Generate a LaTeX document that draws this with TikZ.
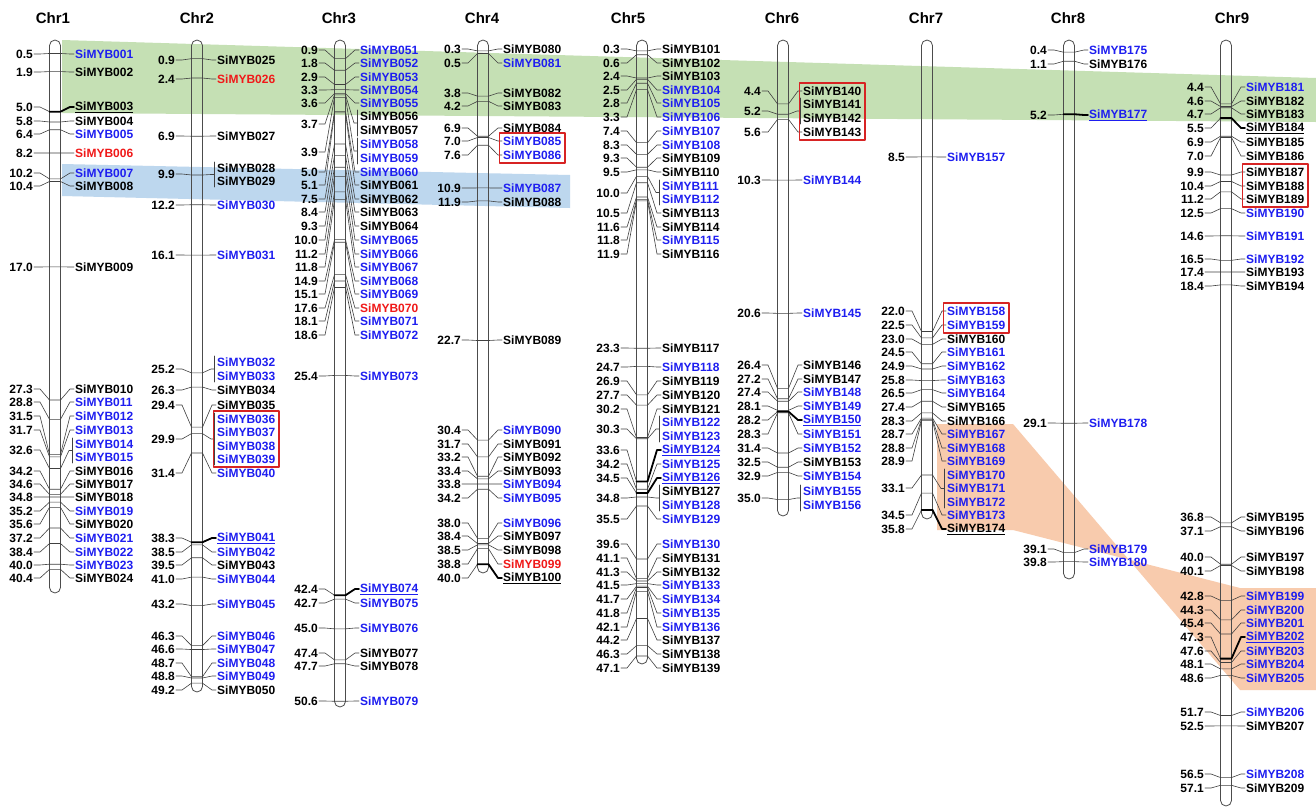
\documentclass[tikz,border=0pt]{standalone}
\usepackage{fontspec}
\setmainfont{Liberation Sans}
\usetikzlibrary{calc,fit}
\definecolor{mybblue}{RGB}{30,30,240}
\definecolor{mybred}{RGB}{240,25,25}
\definecolor{boxred}{RGB}{215,35,35}
\definecolor{bandgreen}{RGB}{197,224,180}
\definecolor{bandblue}{RGB}{189,215,238}
\definecolor{bandorange}{RGB}{248,203,173}
\tikzset{
  chrbody/.style={draw=black!70, line width=0.8pt, rounded corners=5.5pt, minimum width=11pt, inner sep=0pt},
  chrtitle/.style={font=\fontsize{15}{17}\selectfont\bfseries},
  numlbl/.style={anchor=east, inner sep=1pt, font=\fontsize{12}{13}\selectfont\bfseries},
  genelbl/.style={anchor=west, inner sep=1pt, font=\fontsize{12}{13}\selectfont\bfseries},
  mapline/.style={draw=black!75, line width=0.6pt},
  tandem/.style={draw=black, line width=1.8pt},
  redbox/.style={draw=boxred, line width=1.3pt, inner sep=2.5pt},
  gblue/.style={text=mybblue},
  gred/.style={text=mybred},
  gblack/.style={text=black},
  every picture/.style={line cap=round, line join=round}
}
% gene: id, position (Mb), label y, colour, style of right part, text
\newcommand\mybraw[6]{%
  \coordinate (t#1) at (0,{47+12.93*#2});
  \node[numlbl] (p#1) at (-21,#3) {#2};
  \node[genelbl,#4] (g#1) at (19,#3) {#6};
  \draw[mapline] (p#1.east) -- (-15,#3) -- ([xshift=-5.5pt]t#1);
  \draw[mapline,#5] ([xshift=-5.5pt]t#1) -- ([xshift=5.5pt]t#1) -- (15,#3) -- (g#1.west);
}
\newcommand\myb[4]{\mybraw{#1}{#2}{#3}{#4}{}{SiMYB#1}}
\newcommand\mybt[4]{\mybraw{#1}{#2}{#3}{#4}{tandem}{\underline{SiMYB#1}}}
% genes sharing one position: first id, position, number y, first and last label y
\newcommand\mybgrp[5]{%
  \coordinate (t#1) at (0,{47+12.93*#2});
  \node[numlbl] (p#1) at (-21,#3) {#2};
  \coordinate (bt#1) at (17,#4-6);
  \coordinate (bb#1) at (17,#5+6);
  \draw[mapline] (p#1.east) -- (-15,#3) -- ([xshift=-5.5pt]t#1) -- ([xshift=5.5pt]t#1)
    -- ($(bt#1)!0.5!(bb#1)+(-3,0)$) -- ($(bt#1)!0.5!(bb#1)$);
  \draw[mapline] (bt#1) -- (bb#1);
}
\newcommand\myblab[3]{\node[genelbl,#3] (g#1) at (19,#2) {SiMYB#1};}
% chromosome: number, bottom y, title x offset
\newcommand\chrom[3]{%
  \node[chrbody, minimum height={#2-40}] (chr#1) at (0,{(40+#2)/2}) {};
  \node[chrtitle] (title#1) at (#3,18) {Chr#1};
}

\begin{document}
\begin{tikzpicture}[x=1pt,y=-1pt]
  \fill[white] (0,0) rectangle (1316,809);
  \useasboundingbox (0,0) rectangle (1316,809);

  % collinear blocks
  \fill[bandgreen] (62,40) -- (1316,78) -- (1316,122) -- (62,113) -- cycle;
  \fill[bandblue] (62,164) -- (570,175) -- (570,208) -- (62,196) -- cycle;
  \fill[bandorange] (937,424) -- (1013,424) -- (1240,690) -- (1316,690) -- (1316,588)
    -- (1240,588) -- (1013,530) -- (937,530) -- cycle;

  % Chr1
  \begin{scope}[shift={(55,0)}]
    \chrom{1}{593}{-2}
    \myb{001}{0.5}{54}{gblue}
    \myb{002}{1.9}{72}{gblack}
    \mybt{003}{5.0}{107}{gblack}
    \myb{004}{5.8}{121}{gblack}
    \myb{005}{6.4}{134}{gblue}
    \myb{006}{8.2}{153}{gred}
    \myb{007}{10.2}{173}{gblue}
    \myb{008}{10.4}{186}{gblack}
    \myb{009}{17.0}{267}{gblack}
    \myb{010}{27.3}{389}{gblack}
    \myb{011}{28.8}{402}{gblue}
    \myb{012}{31.5}{416}{gblue}
    \myb{013}{31.7}{430}{gblue}
    \mybgrp{014}{32.6}{450}{444}{457}
    \myblab{014}{444}{gblue}
    \myblab{015}{457}{gblue}
    \myb{016}{34.2}{471}{gblack}
    \myb{017}{34.6}{484}{gblack}
    \myb{018}{34.8}{497}{gblack}
    \myb{019}{35.2}{511}{gblue}
    \myb{020}{35.6}{524}{gblack}
    \myb{021}{37.2}{538}{gblue}
    \myb{022}{38.4}{552}{gblue}
    \myb{023}{40.0}{565}{gblue}
    \myb{024}{40.4}{578}{gblack}
  \end{scope}

  % Chr2
  \begin{scope}[shift={(197,0)}]
    \chrom{2}{692}{0}
    \myb{025}{0.9}{60}{gblack}
    \myb{026}{2.4}{79}{gred}
    \myb{027}{6.9}{136}{gblack}
    \mybgrp{028}{9.9}{174}{168}{181}
    \myblab{028}{168}{gblack}
    \myblab{029}{181}{gblack}
    \myb{030}{12.2}{205}{gblue}
    \myb{031}{16.1}{255}{gblue}
    \mybgrp{032}{25.2}{369}{362}{376}
    \myblab{032}{362}{gblue}
    \myblab{033}{376}{gblue}
    \myb{034}{26.3}{390}{gblack}
    \myb{035}{29.4}{405}{gblack}
    \mybgrp{036}{29.9}{439}{419}{459}
    \myblab{036}{419}{gblue}
    \myblab{037}{432}{gblue}
    \myblab{038}{446}{gblue}
    \myblab{039}{459}{gblue}
    \myb{040}{31.4}{473}{gblue}
    \mybt{041}{38.3}{538}{gblue}
    \myb{042}{38.5}{552}{gblue}
    \myb{043}{39.5}{565}{gblack}
    \myb{044}{41.0}{579}{gblue}
    \myb{045}{43.2}{604}{gblue}
    \myb{046}{46.3}{636}{gblue}
    \myb{047}{46.6}{649}{gblue}
    \myb{048}{48.7}{663}{gblue}
    \myb{049}{48.8}{676}{gblue}
    \myb{050}{49.2}{690}{gblack}
  \end{scope}

  % Chr3
  \begin{scope}[shift={(340,0)}]
    \chrom{3}{707}{-1}
    \myb{051}{0.9}{50}{gblue}
    \myb{052}{1.8}{63}{gblue}
    \myb{053}{2.9}{77}{gblue}
    \myb{054}{3.3}{90}{gblue}
    \myb{055}{3.6}{103}{gblue}
    \mybgrp{056}{3.7}{124}{116}{130}
    \myblab{056}{116}{gblack}
    \myblab{057}{130}{gblack}
    \mybgrp{058}{3.9}{152}{144}{158}
    \myblab{058}{144}{gblue}
    \myblab{059}{158}{gblue}
    \myb{060}{5.0}{172}{gblue}
    \myb{061}{5.1}{185}{gblack}
    \myb{062}{7.5}{199}{gblack}
    \myb{063}{8.4}{212}{gblack}
    \myb{064}{9.3}{226}{gblack}
    \myb{065}{10.0}{240}{gblue}
    \myb{066}{11.2}{254}{gblue}
    \myb{067}{11.8}{267}{gblue}
    \myb{068}{14.9}{281}{gblue}
    \myb{069}{15.1}{294}{gblue}
    \myb{070}{17.6}{308}{gred}
    \myb{071}{18.1}{321}{gblue}
    \myb{072}{18.6}{335}{gblue}
    \myb{073}{25.4}{376}{gblue}
    \mybt{074}{42.4}{589}{gblue}
    \myb{075}{42.7}{603}{gblue}
    \myb{076}{45.0}{628}{gblue}
    \myb{077}{47.4}{653}{gblack}
    \myb{078}{47.7}{666}{gblack}
    \myb{079}{50.6}{701}{gblue}
  \end{scope}

  % Chr4
  \begin{scope}[shift={(483,0)}]
    \chrom{4}{573}{-1}
    \myb{080}{0.3}{49}{gblack}
    \myb{081}{0.5}{63}{gblue}
    \myb{082}{3.8}{93}{gblack}
    \myb{083}{4.2}{106}{gblack}
    \myb{084}{6.9}{128}{gblack}
    \myb{085}{7.0}{141}{gblue}
    \myb{086}{7.6}{155}{gblue}
    \myb{087}{10.9}{188}{gblue}
    \myb{088}{11.9}{202}{gblack}
    \myb{089}{22.7}{340}{gblack}
    \myb{090}{30.4}{430}{gblue}
    \myb{091}{31.7}{444}{gblack}
    \myb{092}{33.2}{457}{gblack}
    \myb{093}{33.4}{471}{gblack}
    \myb{094}{33.8}{484}{gblue}
    \myb{095}{34.2}{498}{gblue}
    \myb{096}{38.0}{523}{gblue}
    \myb{097}{38.4}{536}{gblack}
    \myb{098}{38.5}{550}{gblack}
    \myb{099}{38.8}{564}{gred}
    \mybt{100}{40.0}{578}{gblack}
  \end{scope}

  % Chr5
  \begin{scope}[shift={(642,0)}]
    \chrom{5}{664}{-14}
    \myb{101}{0.3}{49}{gblack}
    \myb{102}{0.6}{63}{gblack}
    \myb{103}{2.4}{76}{gblack}
    \myb{104}{2.5}{90}{gblue}
    \myb{105}{2.8}{103}{gblue}
    \myb{106}{3.3}{117}{gblue}
    \myb{107}{7.4}{131}{gblue}
    \myb{108}{8.3}{145}{gblue}
    \myb{109}{9.3}{158}{gblack}
    \myb{110}{9.5}{172}{gblack}
    \mybgrp{111}{10.0}{193}{186}{199}
    \myblab{111}{186}{gblue}
    \myblab{112}{199}{gblue}
    \myb{113}{10.5}{213}{gblack}
    \myb{114}{11.6}{227}{gblack}
    \myb{115}{11.8}{240}{gblue}
    \myb{116}{11.9}{254}{gblack}
    \myb{117}{23.3}{348}{gblack}
    \myb{118}{24.7}{367}{gblue}
    \myb{119}{26.9}{381}{gblack}
    \myb{120}{27.7}{395}{gblack}
    \myb{121}{30.2}{409}{gblack}
    \mybgrp{122}{30.3}{429}{422}{436}
    \myblab{122}{422}{gblue}
    \myblab{123}{436}{gblue}
    \mybt{124}{33.6}{450}{gblue}
    \myb{125}{34.2}{464}{gblue}
    \mybt{126}{34.5}{478}{gblue}
    \mybgrp{127}{34.8}{498}{491}{505}
    \myblab{127}{491}{gblack}
    \myblab{128}{505}{gblue}
    \myb{129}{35.5}{519}{gblue}
    \myb{130}{39.6}{544}{gblue}
    \myb{131}{41.1}{558}{gblack}
    \myb{132}{41.3}{572}{gblack}
    \myb{133}{41.5}{585}{gblue}
    \myb{134}{41.7}{599}{gblue}
    \myb{135}{41.8}{613}{gblue}
    \myb{136}{42.1}{627}{gblue}
    \myb{137}{44.2}{640}{gblack}
    \myb{138}{46.3}{654}{gblack}
    \myb{139}{47.1}{668}{gblack}
  \end{scope}

  % Chr6
  \begin{scope}[shift={(783,0)}]
    \chrom{6}{516}{-1}
    \myb{140}{4.4}{91}{gblack}
    \mybgrp{141}{5.2}{111}{104}{118}
    \myblab{141}{104}{gblack}
    \myblab{142}{118}{gblack}
    \myb{143}{5.6}{132}{gblack}
    \myb{144}{10.3}{180}{gblue}
    \myb{145}{20.6}{313}{gblue}
    \myb{146}{26.4}{365}{gblack}
    \myb{147}{27.2}{379}{gblack}
    \myb{148}{27.4}{392}{gblue}
    \myb{149}{28.1}{406}{gblue}
    \mybt{150}{28.2}{420}{gblue}
    \myb{151}{28.3}{434}{gblue}
    \myb{152}{31.4}{448}{gblue}
    \myb{153}{32.5}{462}{gblack}
    \myb{154}{32.9}{476}{gblue}
    \mybgrp{155}{35.0}{498}{491}{505}
    \myblab{155}{491}{gblue}
    \myblab{156}{505}{gblue}
  \end{scope}

  % Chr7
  \begin{scope}[shift={(927,0)}]
    \chrom{7}{519}{-1}
    \myb{157}{8.5}{157}{gblue}
    \myb{158}{22.0}{311}{gblue}
    \myb{159}{22.5}{325}{gblue}
    \myb{160}{23.0}{339}{gblack}
    \myb{161}{24.5}{352}{gblue}
    \myb{162}{24.9}{366}{gblue}
    \myb{163}{25.8}{380}{gblue}
    \myb{164}{26.5}{393}{gblue}
    \myb{165}{27.4}{407}{gblack}
    \myb{166}{28.3}{421}{gblack}
    \myb{167}{28.7}{434}{gblue}
    \myb{168}{28.8}{448}{gblue}
    \myb{169}{28.9}{461}{gblue}
    \mybgrp{170}{33.1}{488}{475}{502}
    \myblab{170}{475}{gblue}
    \myblab{171}{488}{gblue}
    \myblab{172}{502}{gblue}
    \myb{173}{34.5}{515}{gblue}
    \mybt{174}{35.8}{529}{gblack}
  \end{scope}

  % Chr8
  \begin{scope}[shift={(1069,0)}]
    \chrom{8}{579}{-1}
    \myb{175}{0.4}{50}{gblue}
    \myb{176}{1.1}{64}{gblack}
    \mybt{177}{5.2}{115}{gblue}
    \myb{178}{29.1}{423}{gblue}
    \myb{179}{39.1}{549}{gblue}
    \myb{180}{39.8}{562}{gblue}
  \end{scope}

  % Chr9
  \begin{scope}[shift={(1226,0)}]
    \chrom{9}{806}{6}
    \myb{181}{4.4}{87}{gblue}
    \myb{182}{4.6}{101}{gblack}
    \myb{183}{4.7}{114}{gblack}
    \mybt{184}{5.5}{128}{gblack}
    \myb{185}{6.9}{142}{gblack}
    \myb{186}{7.0}{156}{gblack}
    \myb{187}{9.9}{172}{gblack}
    \myb{188}{10.4}{186}{gblack}
    \myb{189}{11.2}{199}{gblack}
    \myb{190}{12.5}{213}{gblue}
    \myb{191}{14.6}{236}{gblue}
    \myb{192}{16.5}{259}{gblue}
    \myb{193}{17.4}{272}{gblack}
    \myb{194}{18.4}{286}{gblack}
    \myb{195}{36.8}{517}{gblack}
    \myb{196}{37.1}{531}{gblack}
    \myb{197}{40.0}{557}{gblack}
    \myb{198}{40.1}{571}{gblack}
    \myb{199}{42.8}{596}{gblue}
    \myb{200}{44.3}{610}{gblue}
    \myb{201}{45.4}{623}{gblue}
    \mybt{202}{47.3}{637}{gblue}
    \myb{203}{47.6}{651}{gblue}
    \myb{204}{48.1}{664}{gblue}
    \myb{205}{48.6}{678}{gblue}
    \myb{206}{51.7}{712}{gblue}
    \myb{207}{52.5}{726}{gblack}
    \myb{208}{56.5}{774}{gblue}
    \myb{209}{57.1}{788}{gblack}
  \end{scope}

  % tandem duplicated clusters
  \node[redbox, fit=(g036)(g039)] (box2) {};
  \node[redbox, fit=(g085)(g086)] (box4) {};
  \node[redbox, fit=(g140)(g143)] (box6) {};
  \node[redbox, fit=(g158)(g159)] (box7) {};
  \node[redbox, fit=(g187)(g189)] (box9) {};
\end{tikzpicture}
\end{document}
